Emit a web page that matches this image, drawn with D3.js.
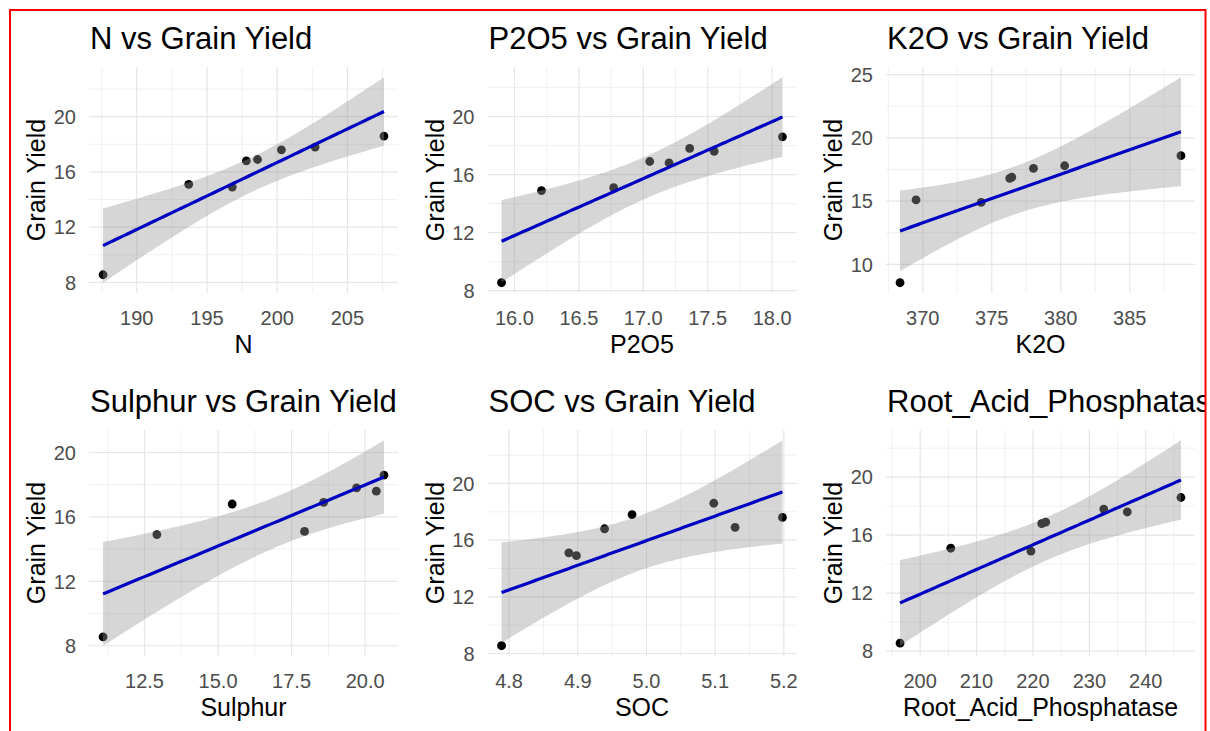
<!DOCTYPE html>
<html lang="en">
<head>
<meta charset="UTF-8">
<title>Grain Yield vs soil parameters</title>
<style>
  body { margin: 0; background: #fff; }
  text { font-family: "Liberation Sans", Arial, sans-serif; }
  .title { font-size: 31px; fill: #000; }
  .axis-title { font-size: 25px; fill: #000; }
  .tick-label { font-size: 20px; fill: #4d4d4d; }
  .grid-major { stroke: #e6e6e6; stroke-width: 1.2; }
  .grid-minor { stroke: #eeeeee; stroke-width: 0.9; }
  .ribbon { fill: #999; fill-opacity: 0.4; }
  .fit { fill: none; stroke: #0000c0; stroke-width: 3.2; stroke-linejoin: round; }
  .point { fill: #000; }
</style>
<script src="https://d3js.org/d3.v7.min.js"></script>
</head>
<body>
<script>
// one value per plot / observation, same order in every array
const grainYield = [8.55, 15.1, 14.9, 16.8, 16.9, 17.6, 17.8, 18.6];
const nValues = [187.6, 193.7, 196.8, 197.8, 198.6, 200.3, 202.7, 207.6];
const p2o5Values = [15.90, 16.77, 16.21, 17.20, 17.05, 17.55, 17.36, 18.08];
const k2oValues = [368.35, 369.51, 374.23, 376.3, 376.45, 378.02, 380.28, 388.71];
const sulphurValues = [11.09, 17.94, 12.92, 15.48, 18.59, 20.38, 19.71, 20.64];
const socValues = [4.789, 4.887, 4.898, 4.939, 5.129, 5.198, 4.979, 5.098];
const rapValues = [196.43, 205.42, 219.64, 221.55, 222.26, 236.73, 232.56, 246.25];

// tick labels
const nTicks = ["190", "195", "200", "205"];
const p2o5Ticks = ["16.0", "16.5", "17.0", "17.5", "18.0"];
const k2oTicks = ["370", "375", "380", "385"];
const sulphurTicks = ["12.5", "15.0", "17.5", "20.0"];
const socTicks = ["4.8", "4.9", "5.0", "5.1", "5.2"];
const rapTicks = ["200", "210", "220", "230", "240"];
const yieldTicks = ["8", "12", "16", "20"];
const yieldTicksK2O = ["10", "15", "20", "25"];

const panels = [
  { name: "N", x: nValues, xTicks: nTicks, yTicks: yieldTicks },
  { name: "P2O5", x: p2o5Values, xTicks: p2o5Ticks, yTicks: yieldTicks },
  { name: "K2O", x: k2oValues, xTicks: k2oTicks, yTicks: yieldTicksK2O },
  { name: "Sulphur", x: sulphurValues, xTicks: sulphurTicks, yTicks: yieldTicks },
  { name: "SOC", x: socValues, xTicks: socTicks, yTicks: yieldTicks },
  { name: "Root_Acid_Phosphatase", x: rapValues, xTicks: rapTicks, yTicks: yieldTicks }
];

const width = 1210, height = 731;
const cellW = 398.5, rowH = 363;
const T_975 = 2.446912; // qt(0.975, df = 6)

// lm fit + 95% confidence band, like geom_smooth(method = "lm")
function linearFit(xs, ys) {
  const n = xs.length, mx = d3.mean(xs), my = d3.mean(ys);
  const sxx = d3.sum(xs, x => (x - mx) ** 2);
  const sxy = d3.sum(xs, (x, i) => (x - mx) * (ys[i] - my));
  const b = sxy / sxx, a = my - b * mx;
  const sse = d3.sum(xs, (x, i) => (ys[i] - a - b * x) ** 2);
  const s = Math.sqrt(sse / (n - 2));
  const [x0, x1] = d3.extent(xs);
  return d3.range(80).map(k => {
    const x = x0 + (x1 - x0) * k / 79;
    const fit = a + b * x;
    const se = s * Math.sqrt(1 / n + (x - mx) ** 2 / sxx);
    return { x, fit, lo: fit - T_975 * se, hi: fit + T_975 * se };
  });
}

function expand([a, b]) {
  const d = (b - a) * 0.05;
  return [a - d, b + d];
}

function minorBreaks(major, domain) {
  const step = major[1] - major[0];
  const out = [];
  for (let v = major[0] - step / 2; v <= domain[1]; v += step) {
    if (v >= domain[0]) out.push(v);
  }
  return out;
}

const svg = d3.select("body")
  .append("svg")
  .attr("width", width)
  .attr("height", height);

// the source screenshot is cropped at its right red edge
svg.append("clipPath")
  .attr("id", "crop")
  .append("rect")
  .attr("x", 0).attr("y", 0)
  .attr("width", 1205).attr("height", height);

const root = svg.append("g").attr("clip-path", "url(#crop)");

panels.forEach((p, i) => {
  const col = i % 3, row = Math.floor(i / 3);
  const cx = 10 + col * cellW;
  const top = 67 + row * rowH, bottom = top + 226;
  const left = cx + 79, right = cx + 388;

  const band = linearFit(p.x, grainYield);
  const xDom = expand(d3.extent(p.x));
  const yDom = expand([
    Math.min(d3.min(grainYield), d3.min(band, d => d.lo)),
    Math.max(d3.max(grainYield), d3.max(band, d => d.hi))
  ]);

  const x = d3.scaleLinear().domain(xDom).range([left, right]);
  const y = d3.scaleLinear().domain(yDom).range([bottom, top]);

  const xMajor = p.xTicks.map(Number);
  const yMajor = p.yTicks.map(Number);

  const g = root.append("g");

  // grid
  g.selectAll(".vminor").data(minorBreaks(xMajor, xDom)).enter()
    .append("line").attr("class", "grid-minor")
    .attr("x1", d => x(d)).attr("x2", d => x(d))
    .attr("y1", top).attr("y2", bottom);
  g.selectAll(".hminor").data(minorBreaks(yMajor, yDom)).enter()
    .append("line").attr("class", "grid-minor")
    .attr("x1", left).attr("x2", right)
    .attr("y1", d => y(d)).attr("y2", d => y(d));
  g.selectAll(".vmajor").data(xMajor).enter()
    .append("line").attr("class", "grid-major")
    .attr("x1", d => x(d)).attr("x2", d => x(d))
    .attr("y1", top).attr("y2", bottom);
  g.selectAll(".hmajor").data(yMajor).enter()
    .append("line").attr("class", "grid-major")
    .attr("x1", left).attr("x2", right)
    .attr("y1", d => y(d)).attr("y2", d => y(d));

  // points first, smoother drawn over them
  g.selectAll(".point").data(p.x).enter()
    .append("circle").attr("class", "point")
    .attr("cx", d => x(d))
    .attr("cy", (d, k) => y(grainYield[k]))
    .attr("r", 4.4);

  g.append("path").datum(band).attr("class", "ribbon")
    .attr("d", d3.area().x(d => x(d.x)).y0(d => y(d.lo)).y1(d => y(d.hi)));

  g.append("path").datum(band).attr("class", "fit")
    .attr("d", d3.line().x(d => x(d.x)).y(d => y(d.fit)));

  // tick labels
  g.selectAll(".xlab").data(p.xTicks).enter()
    .append("text").attr("class", "tick-label")
    .attr("x", d => x(+d)).attr("y", bottom + 32)
    .attr("text-anchor", "middle")
    .text(d => d);
  g.selectAll(".ylab").data(p.yTicks).enter()
    .append("text").attr("class", "tick-label")
    .attr("x", cx + 66).attr("y", d => y(+d))
    .attr("dy", "0.36em")
    .attr("text-anchor", "end")
    .text(d => d);

  // titles
  g.append("text").attr("class", "title")
    .attr("x", left + 1).attr("y", top - 18)
    .text(`${p.name} vs Grain Yield`);

  g.append("text").attr("class", "axis-title")
    .attr("x", (left + right) / 2).attr("y", bottom + 60)
    .attr("text-anchor", "middle")
    .text(p.name);

  g.append("text").attr("class", "axis-title")
    .attr("transform", `translate(${cx + 35},${(top + bottom) / 2}) rotate(-90)`)
    .attr("text-anchor", "middle")
    .text("Grain Yield");
});

// red frame around the screenshot
svg.append("rect")
  .attr("x", 10).attr("y", 10)
  .attr("width", 1195.5).attr("height", 800)
  .attr("fill", "none")
  .attr("stroke", "#ff0000")
  .attr("stroke-width", 2);
</script>
</body>
</html>
